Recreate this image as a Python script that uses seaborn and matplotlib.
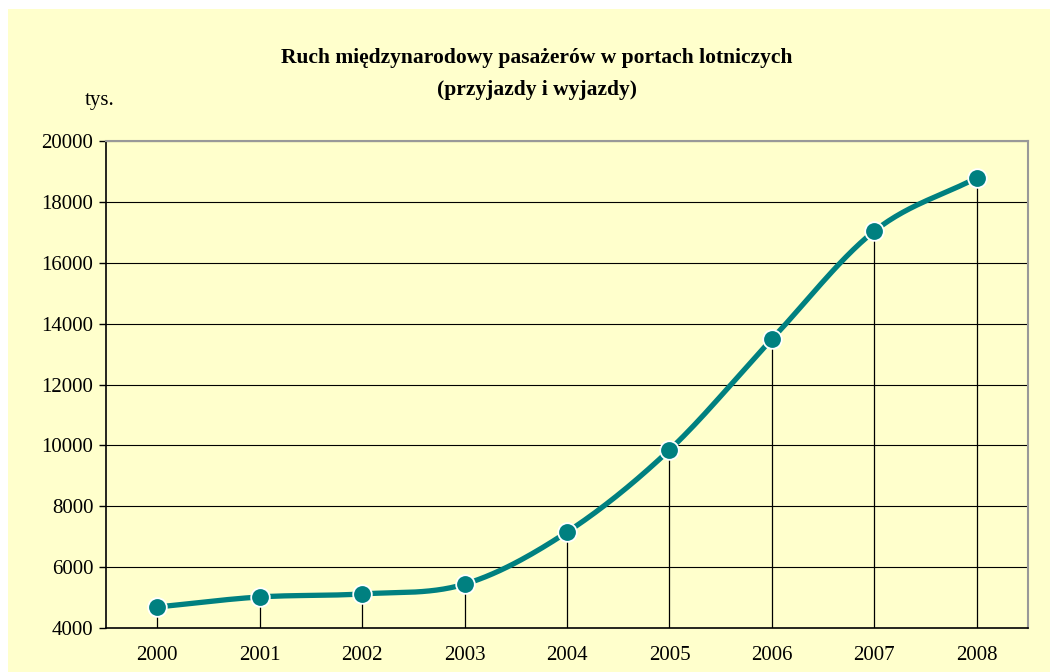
import numpy as np
import pandas as pd
import seaborn as sns
import matplotlib.pyplot as plt

# Data
years = ['2000', '2001', '2002', '2003', '2004', '2005', '2006', '2007', '2008']
passengers = [4690, 5020, 5120, 5440, 7150, 9850, 13490, 17040, 18790]

df = pd.DataFrame({'Rok': years, 'Pasazerowie': passengers})
df['pos'] = np.arange(len(df))

# smoothed line like in Excel (Catmull-Rom through the points)
def smooth(x, y, n=30):
    x = np.asarray(x, float)
    y = np.asarray(y, float)
    px = np.concatenate([[2 * x[0] - x[1]], x, [2 * x[-1] - x[-2]]])
    py = np.concatenate([[2 * y[0] - y[1]], y, [2 * y[-1] - y[-2]]])
    xs, ys = [], []
    t = np.linspace(0, 1, n)
    for i in range(1, len(px) - 2):
        for p, out in ((px, xs), (py, ys)):
            p0, p1, p2, p3 = p[i - 1], p[i], p[i + 1], p[i + 2]
            out.extend(0.5 * (2 * p1 + (-p0 + p2) * t
                              + (2 * p0 - 5 * p1 + 4 * p2 - p3) * t ** 2
                              + (-p0 + 3 * p1 - 3 * p2 + p3) * t ** 3))
    return pd.DataFrame({'x': xs, 'y': ys})

curve = smooth(df['pos'], df['Pasazerowie'])

sns.set_style('white')
plt.rcParams['font.family'] = ['Liberation Serif', 'DejaVu Serif']
plt.rcParams['text.color'] = 'black'
plt.rcParams['xtick.color'] = 'black'
plt.rcParams['ytick.color'] = 'black'

bg = '#FFFFCC'
teal = '#008080'

fig = plt.figure(figsize=(10.5, 6.72), dpi=100)
fig.patch.set_facecolor('white')
# yellow chart area with small white margin at top-left
fig.patches.append(plt.Rectangle((8 / 1050, 0), 1, 1 - 9 / 672, transform=fig.transFigure,
                                 facecolor=bg, edgecolor='none', zorder=-10))

ax = fig.add_axes([106 / 1050, 1 - 628 / 672, 922 / 1050, 487 / 672])
ax.set_facecolor(bg)

# grid
for v in range(6000, 20001, 2000):
    ax.axhline(v, color='black', lw=0.8, zorder=1)

# drop lines
ax.vlines(df['pos'], 4000, df['Pasazerowie'], color='black', lw=0.9, zorder=2)

sns.lineplot(data=curve, x='x', y='y', ax=ax, color=teal, lw=3.8, sort=False,
             estimator=None, zorder=3)
sns.scatterplot(data=df, x='pos', y='Pasazerowie', ax=ax, color=teal, s=180,
                edgecolor='white', linewidth=1.3, zorder=4)

ax.set_xlim(-0.5, len(years) - 0.5)
ax.set_ylim(4000, 20000)
ax.set_yticks(range(4000, 20001, 2000))
ax.set_xticks(df['pos'])
ax.set_xticklabels(years)
ax.set_xticks(np.arange(-0.5, len(years), 1), minor=True)
ax.tick_params(axis='x', which='major', length=0, labelsize=15, pad=13)
ax.tick_params(axis='x', which='minor', length=5, width=1, color='black', direction='out')
ax.tick_params(axis='y', length=5, width=1, color='black', direction='out', labelsize=15, pad=4, left=True)
ax.set_xlabel('')
ax.set_ylabel('')

for s in ['left', 'bottom']:
    ax.spines[s].set_color('black')
    ax.spines[s].set_linewidth(1.2)
for s in ['top', 'right']:
    ax.spines[s].set_visible(True)
    ax.spines[s].set_color('#999999')
    ax.spines[s].set_linewidth(1.5)

fig.text(537 / 1050, 1 - 58 / 672, 'Ruch międzynarodowy pasażerów w portach lotniczych',
         ha='center', va='center', fontsize=15.5, fontweight='bold')
fig.text(537 / 1050, 1 - 90 / 672, '(przyjazdy i wyjazdy)',
         ha='center', va='center', fontsize=15.5, fontweight='bold')
fig.text(100 / 1050, 1 - 101 / 672, 'tys.', ha='center', va='center', fontsize=15)

fig.savefig('out.png', dpi=100, facecolor=fig.get_facecolor())
